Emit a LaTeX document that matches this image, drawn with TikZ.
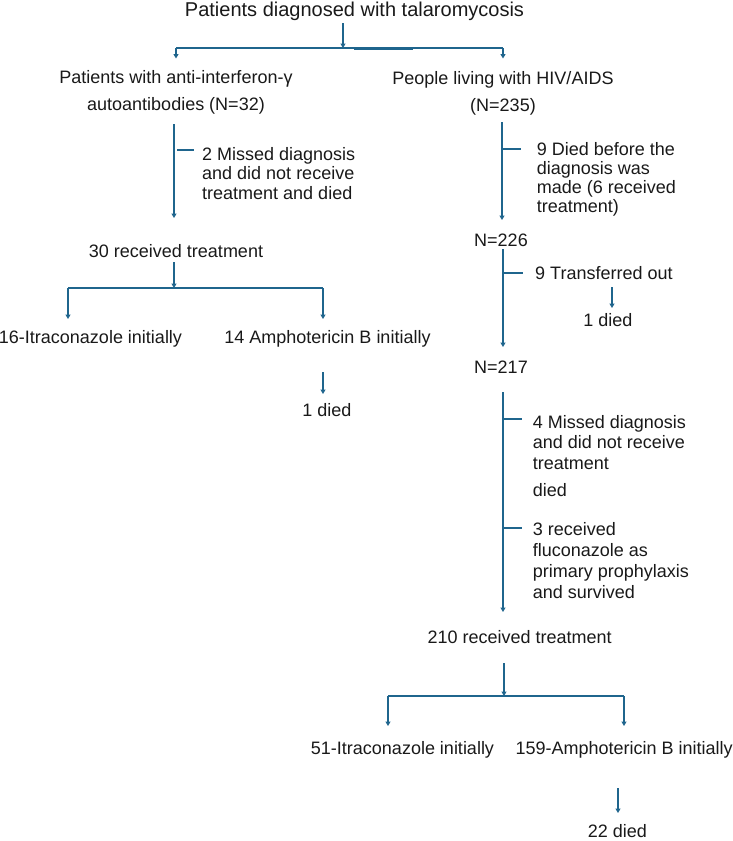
\documentclass[tikz,border=0pt]{standalone}
\usepackage{fontspec}
\setmainfont{Liberation Sans}
\usetikzlibrary{arrows.meta}
\definecolor{flow}{RGB}{31,101,141}
\definecolor{ink}{RGB}{25,25,25}
\newcommand{\blk}[2]{\begin{tabular}[t]{@{}#1@{}}#2\end{tabular}}
\begin{document}
\begin{tikzpicture}[x=1pt,y=-1pt,
  txt/.style={inner sep=0pt, text=ink, font=\fontsize{18}{19.5}\selectfont},
  conn/.style={draw=flow, line width=1.8pt},
  arr/.style={conn, -{Triangle[length=4.5pt,width=5pt]}},
]
\useasboundingbox (0,0) rectangle (733,841);

% ---------- text nodes ----------
\node[txt, font=\fontsize{20}{22}\selectfont, anchor=base] (title) at (354.5,16.5) {Patients diagnosed with talaromycosis};
\node[txt, font=\fontsize{18}{27}\selectfont, anchor=base] (aif) at (176,83) {\blk{c}{Patients with anti-interferon-γ\\ autoantibodies (N=32)}};
\node[txt, font=\fontsize{18}{26.5}\selectfont, anchor=base] (hiv) at (503,84.5) {\blk{c}{People living with HIV/AIDS\\ (N=235)}};

\node[txt, font=\fontsize{18}{19.7}\selectfont, anchor=base west] (miss2) at (202,160) {\blk{l}{2 Missed diagnosis\\ and did not receive\\ treatment and died}};
\node[txt, anchor=base] (rx30) at (176,257) {30 received treatment};
\node[txt, anchor=base] (itra16) at (90.5,343) {16-Itraconazole initially};
\node[txt, anchor=base] (ampho14) at (327.5,343) {14 Amphotericin B initially};
\node[txt, anchor=base] (died1L) at (327,416) {1 died};

\node[txt, font=\fontsize{18}{19}\selectfont, anchor=base west] (died9) at (536.7,155.5) {\blk{l}{9 Died before the\\ diagnosis was\\ made (6 received\\ treatment)}};
\node[txt, anchor=base] (n226) at (501,246.5) {N=226};
\node[txt, anchor=base west] (trans9) at (535,279) {9 Transferred out};
\node[txt, anchor=base] (died1R) at (608,326.5) {1 died};
\node[txt, anchor=base] (n217) at (501,373.5) {N=217};
\node[txt, font=\fontsize{18}{20.8}\selectfont, anchor=base west] (miss4) at (532.7,428) {\blk{l}{4 Missed diagnosis\\ and did not receive\\ treatment\\[6.1pt] died}};
\node[txt, font=\fontsize{18}{20.8}\selectfont, anchor=base west] (fluc3) at (532.7,535.8) {\blk{l}{3 received\\ fluconazole as\\ primary prophylaxis\\ and survived}};
\node[txt, anchor=base] (rx210) at (519.7,643) {210 received treatment};
\node[txt, anchor=base] (itra51) at (402.5,754) {51-Itraconazole initially};
\node[txt, anchor=base] (ampho159) at (624.2,754) {159-Amphotericin B initially};
\node[txt, anchor=base] (died22) at (617.5,837) {22 died};

% ---------- connector points ----------
\coordinate (tA) at (343,23);
\coordinate (tB) at (343,48);
\coordinate (bL) at (176,48);
\coordinate (bR) at (503,48);
\coordinate (aifIn) at (176,58.5);
\coordinate (hivIn) at (503,58.5);
\coordinate (glA) at (354,49);
\coordinate (glB) at (413,49);

\coordinate (lA) at (174,124);
\coordinate (lB) at (174,218);
\coordinate (lT1) at (177,150);
\coordinate (lT2) at (194,150);
\coordinate (l30A) at (174,262);
\coordinate (l30B) at (174,288);
\coordinate (lbL) at (68,288);
\coordinate (lbR) at (323,288);
\coordinate (l16In) at (68,319);
\coordinate (l14In) at (323,319);
\coordinate (l14A) at (323,372);
\coordinate (l14B) at (323,394);

\coordinate (rA) at (502,122);
\coordinate (rB) at (502,220);
\coordinate (rT1) at (502,149);
\coordinate (rT2) at (521,149);
\coordinate (r226A) at (503,249);
\coordinate (r226B) at (503,347);
\coordinate (rT3) at (503,273);
\coordinate (rT4) at (523,273);
\coordinate (rtrA) at (612,287);
\coordinate (rtrB) at (612,308);
\coordinate (r217A) at (503,392);
\coordinate (r217B) at (503,612);
\coordinate (rT5) at (503,419);
\coordinate (rT6) at (522,419);
\coordinate (rT7) at (503,528);
\coordinate (rT8) at (522,528);
\coordinate (r210A) at (504,663);
\coordinate (r210B) at (504,696);
\coordinate (rbL) at (388,696);
\coordinate (rbR) at (624,696);
\coordinate (r51In) at (388,726);
\coordinate (r159In) at (624,726);
\coordinate (r159A) at (618,788);
\coordinate (r159B) at (618,813);

% ---------- connectors ----------
\draw[arr] (tA) -- (tB);
\draw[conn] (bL) -- (bR);
\draw[conn] (glA) -- (glB);
\draw[arr] (bL) -- (aifIn);
\draw[arr] (bR) -- (hivIn);

\draw[arr] (lA) -- (lB);
\draw[conn] (lT1) -- (lT2);
\draw[arr] (l30A) -- (l30B);
\draw[conn] (lbL) -- (lbR);
\draw[arr] (lbL) -- (l16In);
\draw[arr] (lbR) -- (l14In);
\draw[arr] (l14A) -- (l14B);

\draw[arr] (rA) -- (rB);
\draw[conn] (rT1) -- (rT2);
\draw[arr] (r226A) -- (r226B);
\draw[conn] (rT3) -- (rT4);
\draw[arr] (rtrA) -- (rtrB);
\draw[arr] (r217A) -- (r217B);
\draw[conn] (rT5) -- (rT6);
\draw[conn] (rT7) -- (rT8);
\draw[arr] (r210A) -- (r210B);
\draw[conn] (rbL) -- (rbR);
\draw[arr] (rbL) -- (r51In);
\draw[arr] (rbR) -- (r159In);
\draw[arr] (r159A) -- (r159B);
\end{tikzpicture}
\end{document}
